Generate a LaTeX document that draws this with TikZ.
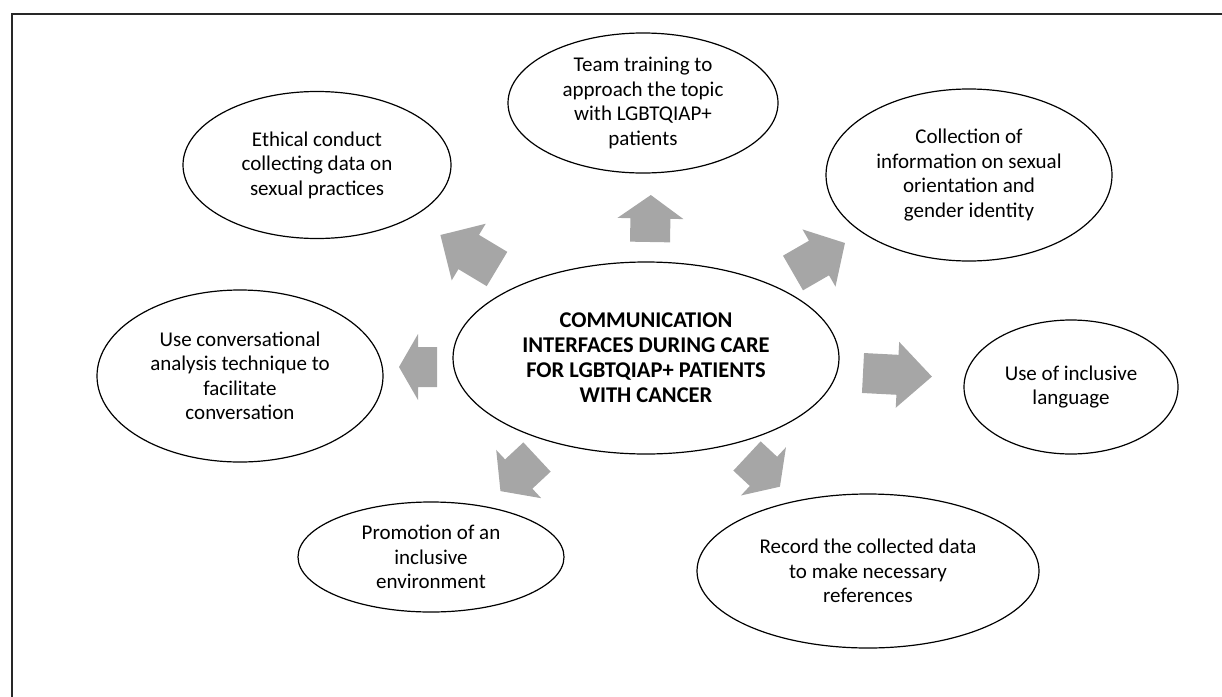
\documentclass[tikz,border=0pt]{standalone}
\usepackage{fontspec}
\setmainfont{Carlito}
\usepackage{tikz}
\usetikzlibrary{shapes.geometric,positioning}
\definecolor{arrowgray}{RGB}{166,166,166}
\definecolor{framegray}{RGB}{40,40,40}

\begin{document}
\begin{tikzpicture}
[x=1pt,y=-1pt,
bubble/.style={ellipse,draw=black,line width=1.2pt,inner sep=0pt,align=center,font=\fontsize{21}{24.5}\selectfont},
garrow/.pic={\fill[arrowgray] (0,-20) -- ({#1/2},-20) -- ({#1/2},-33) -- (#1,0) -- ({#1/2},33) -- ({#1/2},20) -- (0,20) -- cycle;}]
\useasboundingbox (0,0) rectangle (1222,696);
\begin{scope}
\clip (0,0) rectangle (1222,696);
\draw[framegray,line width=1.3pt] (12,14) rectangle (1240,720);
\end{scope}

\node[bubble,minimum width=386,minimum height=192,font=\bfseries\fontsize{22.5}{25}\selectfont] (core) at (646,358)
  {COMMUNICATION\\INTERFACES DURING CARE\\FOR LGBTQIAP+ PATIENTS\\WITH CANCER};

\node[bubble,minimum width=270,minimum height=140] (team) at (643,103) {Team training to\\approach the topic\\with LGBTQIAP+\\patients};
\node[bubble,minimum width=268,minimum height=147] (ethic) at (317,165) {Ethical conduct\\collecting data on\\sexual practices};
\node[bubble,minimum width=286,minimum height=172] (collect) at (969,175) {Collection of\\information on sexual\\orientation and\\gender identity};
\node[bubble,minimum width=286,minimum height=172] (talk) at (240,376) {Use conversational\\analysis technique to\\facilitate\\conversation};
\node[bubble,minimum width=214,minimum height=134] (lang) at (1071,387) {Use of inclusive\\language};
\node[bubble,minimum width=266,minimum height=110] (place) at (431,557) {Promotion of an\\inclusive\\environment};
\node[bubble,minimum width=342,minimum height=154] (record) at (868,571) {Record the collected data\\to make necessary\\references};

% block arrows out of the core
\pic[rotate=89] at (650,242) {garrow=47};
\pic[rotate=149] at (497,269) {garrow=66};
\pic[rotate=30] at (793,273) {garrow=60};
\pic[rotate=180] at (437,367) {garrow=38};
\pic[rotate=-3] at (863,373) {garrow=69};
\pic[rotate=-43] at (747,456) {garrow=45};
\pic[rotate=223] at (537,457) {garrow=50};
\end{tikzpicture}
\end{document}
